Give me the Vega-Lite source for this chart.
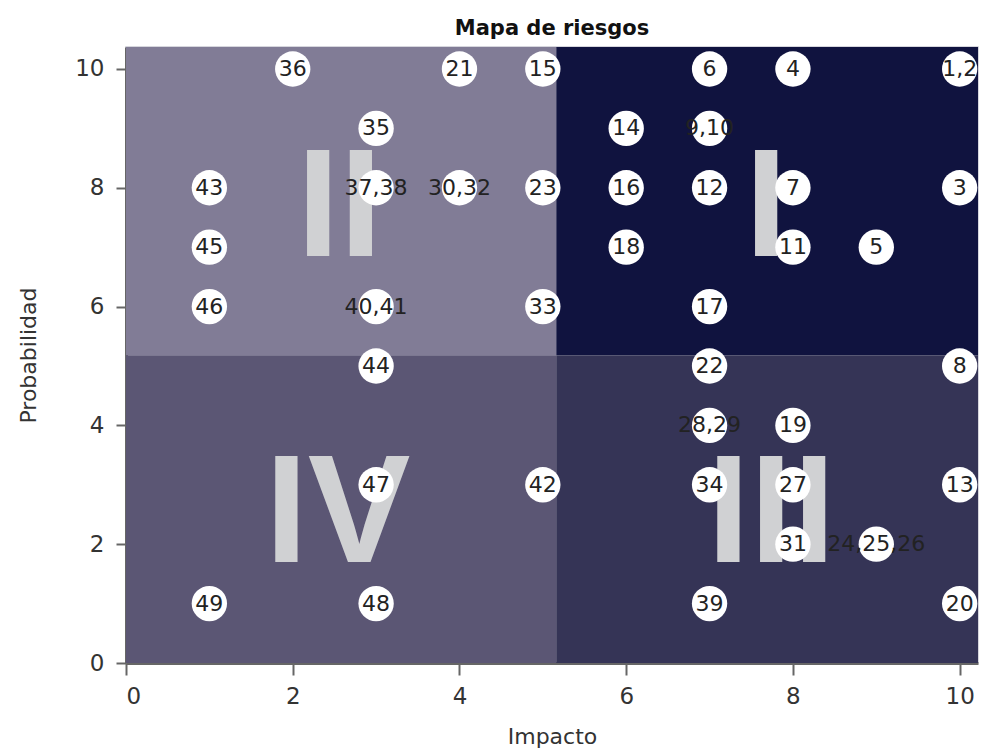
{
  "$schema": "https://vega.github.io/schema/vega-lite/v6.json",
  "width": 852,
  "height": 616,
  "autosize": "none",
  "padding": {"left": 126, "top": 47, "right": 4, "bottom": 86},
  "background": "white",
  "title": {"text": "Mapa de riesgos", "font": "DejaVu Sans", "fontSize": 21, "fontWeight": "bold", "color": "#111111", "offset": 8},
  "config": {"view": {"stroke": "#c9c9d2", "strokeWidth": 1.5}},
  "datasets": {
    "quadrants": [
      {"quad": "I", "x0": 5.16, "x1": 10.22, "y0": 5.18, "y1": 10.37, "xc": 7.68, "yc": 7.78},
      {"quad": "II", "x0": 0, "x1": 5.16, "y0": 5.18, "y1": 10.37, "xc": 2.56, "yc": 7.78},
      {"quad": "III", "x0": 5.16, "x1": 10.22, "y0": 0, "y1": 5.18, "xc": 7.74, "yc": 2.62},
      {"quad": "IV", "x0": 0, "x1": 5.16, "y0": 0, "y1": 5.18, "xc": 2.54, "yc": 2.62}
    ],
    "risks": [
      {"impacto": 2, "probabilidad": 10, "id": "36"},
      {"impacto": 4, "probabilidad": 10, "id": "21"},
      {"impacto": 5, "probabilidad": 10, "id": "15"},
      {"impacto": 7, "probabilidad": 10, "id": "6"},
      {"impacto": 8, "probabilidad": 10, "id": "4"},
      {"impacto": 10, "probabilidad": 10, "id": "1,2"},
      {"impacto": 3, "probabilidad": 9, "id": "35"},
      {"impacto": 6, "probabilidad": 9, "id": "14"},
      {"impacto": 7, "probabilidad": 9, "id": "9,10"},
      {"impacto": 1, "probabilidad": 8, "id": "43"},
      {"impacto": 3, "probabilidad": 8, "id": "37,38"},
      {"impacto": 4, "probabilidad": 8, "id": "30,32"},
      {"impacto": 5, "probabilidad": 8, "id": "23"},
      {"impacto": 6, "probabilidad": 8, "id": "16"},
      {"impacto": 7, "probabilidad": 8, "id": "12"},
      {"impacto": 8, "probabilidad": 8, "id": "7"},
      {"impacto": 10, "probabilidad": 8, "id": "3"},
      {"impacto": 1, "probabilidad": 7, "id": "45"},
      {"impacto": 6, "probabilidad": 7, "id": "18"},
      {"impacto": 8, "probabilidad": 7, "id": "11"},
      {"impacto": 9, "probabilidad": 7, "id": "5"},
      {"impacto": 1, "probabilidad": 6, "id": "46"},
      {"impacto": 3, "probabilidad": 6, "id": "40,41"},
      {"impacto": 5, "probabilidad": 6, "id": "33"},
      {"impacto": 7, "probabilidad": 6, "id": "17"},
      {"impacto": 3, "probabilidad": 5, "id": "44"},
      {"impacto": 7, "probabilidad": 5, "id": "22"},
      {"impacto": 10, "probabilidad": 5, "id": "8"},
      {"impacto": 7, "probabilidad": 4, "id": "28,29"},
      {"impacto": 8, "probabilidad": 4, "id": "19"},
      {"impacto": 3, "probabilidad": 3, "id": "47"},
      {"impacto": 5, "probabilidad": 3, "id": "42"},
      {"impacto": 7, "probabilidad": 3, "id": "34"},
      {"impacto": 8, "probabilidad": 3, "id": "27"},
      {"impacto": 10, "probabilidad": 3, "id": "13"},
      {"impacto": 8, "probabilidad": 2, "id": "31"},
      {"impacto": 9, "probabilidad": 2, "id": "24,25,26"},
      {"impacto": 1, "probabilidad": 1, "id": "49"},
      {"impacto": 3, "probabilidad": 1, "id": "48"},
      {"impacto": 7, "probabilidad": 1, "id": "39"},
      {"impacto": 10, "probabilidad": 1, "id": "20"}
    ]
  },
  "layer": [
    {
      "data": {"name": "quadrants"},
      "mark": {"type": "rect"},
      "encoding": {
        "x": {"field": "x0", "type": "quantitative", "scale": {"domain": [0, 10.22], "nice": false, "zero": false},
          "axis": {"title": "Impacto", "values": [0, 2, 4, 6, 8, 10], "format": "d", "grid": false, "domainColor": "#666666", "domainWidth": 3, "tickColor": "#666666", "tickWidth": 2, "tickSize": 12, "labelFont": "DejaVu Sans", "labelFontSize": 23, "labelColor": "#333333", "labelPadding": 10, "titleFont": "DejaVu Sans", "titleFontSize": 22, "titleFontWeight": "normal", "titleColor": "#333333", "titlePadding": 18}},
        "x2": {"field": "x1"},
        "y": {"field": "y0", "type": "quantitative", "scale": {"domain": [0, 10.37], "nice": false, "zero": false},
          "axis": {"title": "Probabilidad", "values": [0, 2, 4, 6, 8, 10], "format": "d", "grid": false, "domainColor": "#666666", "domainWidth": 3, "tickColor": "#666666", "tickWidth": 2, "tickSize": 10, "labelFont": "DejaVu Sans", "labelFontSize": 23, "labelColor": "#333333", "labelPadding": 12, "titleFont": "DejaVu Sans", "titleFontSize": 22, "titleFontWeight": "normal", "titleColor": "#333333", "titlePadding": 34}},
        "y2": {"field": "y1"},
        "color": {"field": "quad", "type": "nominal", "legend": null,
          "scale": {"domain": ["I", "II", "III", "IV"], "range": ["#10133f", "#817c96", "#353456", "#5b5674"]}}
      }
    },
    {
      "data": {"name": "quadrants"},
      "mark": {"type": "text", "font": "Liberation Sans", "fontWeight": "bold", "fontSize": 154, "color": "#d0d1d3", "baseline": "middle", "align": "center", "dy": 9},
      "encoding": {
        "x": {"field": "xc", "type": "quantitative"},
        "y": {"field": "yc", "type": "quantitative"},
        "text": {"field": "quad"}
      }
    },
    {
      "data": {"name": "risks"},
      "mark": {"type": "circle", "size": 1250, "color": "white", "opacity": 1},
      "encoding": {
        "x": {"field": "impacto", "type": "quantitative"},
        "y": {"field": "probabilidad", "type": "quantitative"}
      }
    },
    {
      "data": {"name": "risks"},
      "mark": {"type": "text", "font": "DejaVu Sans", "fontSize": 22, "color": "#222222", "baseline": "middle", "align": "center"},
      "encoding": {
        "x": {"field": "impacto", "type": "quantitative"},
        "y": {"field": "probabilidad", "type": "quantitative"},
        "text": {"field": "id"}
      }
    }
  ]
}
